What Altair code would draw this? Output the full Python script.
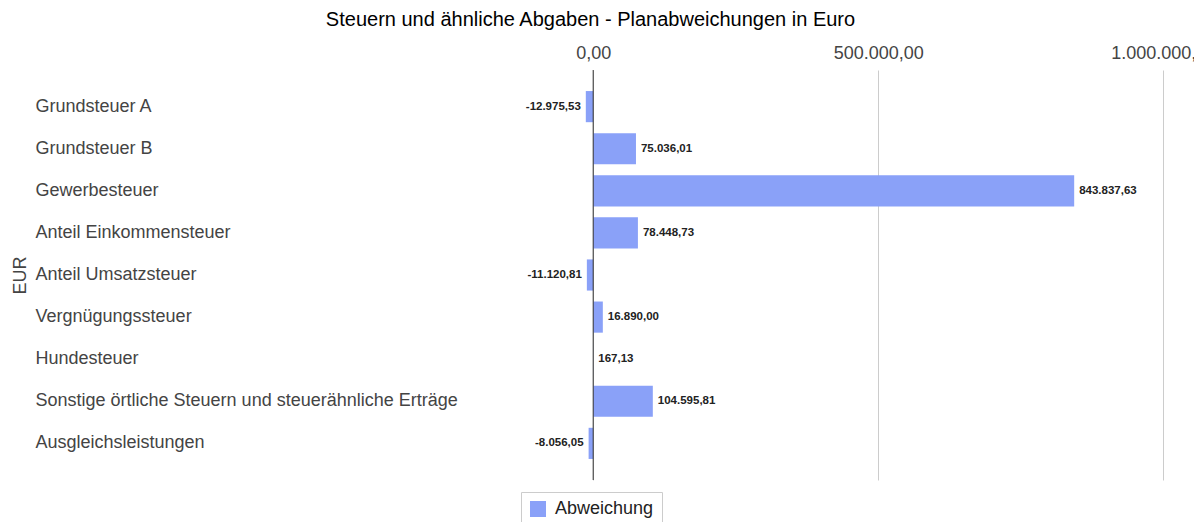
import altair as alt
import pandas as pd

categories = [
    "Grundsteuer A",
    "Grundsteuer B",
    "Gewerbesteuer",
    "Anteil Einkommensteuer",
    "Anteil Umsatzsteuer",
    "Vergnügungssteuer",
    "Hundesteuer",
    "Sonstige örtliche Steuern und steuerähnliche Erträge",
    "Ausgleichsleistungen",
]
values = [-12975.53, 75036.01, 843837.63, 78448.73, -11120.81, 16890.00, 167.13, 104595.81, -8056.05]
series_name = "Abweichung"
x_ticks = [0, 500000, 1000000]

df = pd.DataFrame({"Kategorie": categories, "Wert": values, "Serie": [series_name] * len(categories)})

FONT = "Liberation Sans"
BAR = "#8aa1f8"

y_enc = alt.Y(
    "Kategorie:N",
    sort=categories,
    scale=alt.Scale(paddingInner=0.26, paddingOuter=0.5),
    axis=alt.Axis(
        title="EUR",
        labelAlign="left",
        labelPadding=524,
        labelLimit=600,
        labelFontSize=18,
        labelColor="#444444",
        labelFont=FONT,
        ticks=False,
        tickSize=0,
        domain=False,
        grid=False,
        titleFontSize=18,
        titleFontWeight="normal",
        titleColor="#444444",
        titleFont=FONT,
        titleAngle=-90,
        titleAlign="center",
        titleBaseline="alphabetic",
        titleX=-534,
        titleY=205,
    ),
)

x_scale = alt.Scale(domain=[-60000, 1040000], nice=False, zero=False)

bars = alt.Chart(df).mark_bar(color=BAR).encode(
    x=alt.X(
        "Wert:Q",
        scale=x_scale,
        axis=alt.Axis(
            orient="top",
            title=None,
            values=x_ticks,
            format=",.2f",
            labelFontSize=18,
            labelColor="#444444",
            labelFont=FONT,
            labelPadding=8,
            labelFlush=False,
            ticks=False,
            tickSize=0,
            domain=False,
            grid=True,
            gridColor="#cccccc",
            gridWidth=1,
        ),
    ),
    x2=alt.datum(0),
    y=y_enc,
    color=alt.Color(
        "Serie:N",
        scale=alt.Scale(domain=[series_name], range=[BAR]),
        legend=alt.Legend(
            title=None,
            orient="none",
            legendX=-38,
            legendY=422,
            padding=8,
            strokeColor="#cccccc",
            fillColor="#ffffff",
            symbolType="square",
            symbolSize=256,
            symbolStrokeWidth=0,
            labelFontSize=18,
            labelColor="#222222",
            labelFont=FONT,
            labelOffset=8,
        ),
    ),
)

zero_rule = alt.Chart(df).transform_filter("datum.Kategorie == 'Grundsteuer A'").transform_calculate(
    z="0"
).mark_rule(color="#333333", strokeWidth=1).encode(x=alt.X("z:Q", scale=x_scale))

pos_labels = alt.Chart(df).transform_filter("datum.Wert >= 0").mark_text(
    align="left", baseline="middle", dx=5, fontSize=11.5, fontWeight="bold", color="#222222", font=FONT
).encode(
    x=alt.X("Wert:Q", scale=x_scale),
    y=alt.Y("Kategorie:N", sort=categories),
    text=alt.Text("Wert:Q", format=",.2f"),
)

neg_labels = alt.Chart(df).transform_filter("datum.Wert < 0").mark_text(
    align="right", baseline="middle", dx=-5, fontSize=11.5, fontWeight="bold", color="#222222", font=FONT
).encode(
    x=alt.X("Wert:Q", scale=x_scale),
    y=alt.Y("Kategorie:N", sort=categories),
    text=alt.Text("Wert:Q", format=",.2f"),
)

chart = alt.layer(bars, zero_rule, pos_labels, neg_labels).properties(
    width=627,
    height=410,
    padding={"left": 551, "top": 62, "right": 8, "bottom": 42},
    autosize=alt.AutoSizeParams(type="none"),
    title=alt.TitleParams(
        text="Steuern und ähnliche Abgaben - Planabweichungen in Euro",
        fontSize=20,
        fontWeight="normal",
        color="#000000",
        font=FONT,
        anchor="middle",
        frame="group",
        baseline="alphabetic",
        offset=18,
        dx=-282,
        dy=20,
    ),
).configure(background="#ffffff").configure_view(strokeWidth=0, stroke="transparent")

chart.save(
    "out.html",
    embed_options={
        "renderer": "svg",
        "actions": False,
        "formatLocale": {"decimal": ",", "thousands": ".", "grouping": [3], "currency": ["", " €"], "minus": "-"},
    },
)
